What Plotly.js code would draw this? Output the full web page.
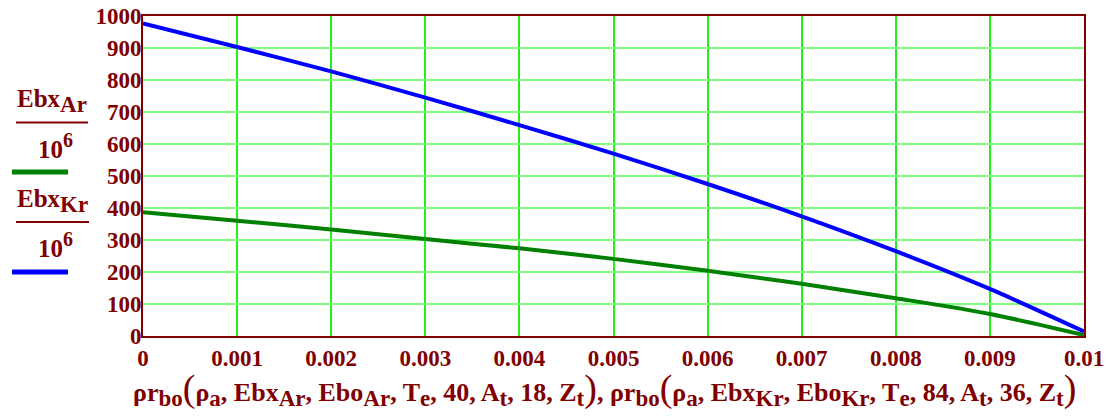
<!DOCTYPE html>
<html>
<head>
<meta charset="utf-8">
<script src="https://cdn.plot.ly/plotly-3.0.1.min.js"></script>
<style>
  html, body { margin: 0; padding: 0; background: #ffffff; }
  #plot { width: 1119px; height: 419px; }
</style>
</head>
<body>
<div id="plot"></div>
<script>
// Bulk density argument (x) shared by both curves
const rho = [0, 0.001, 0.002, 0.003, 0.004, 0.005, 0.006, 0.007, 0.008, 0.009, 0.01];
// Ebx / 10^6 for argon and krypton
const ebxAr = [387, 360, 333, 303, 274, 241, 204, 163, 118, 69, 3];
const ebxKr = [977, 903, 827, 745, 659, 570, 475, 374, 265, 147, 14];

const xTickVals = [0, 0.001, 0.002, 0.003, 0.004, 0.005, 0.006, 0.007, 0.008, 0.009, 0.01];
const xTickText = ['0', '0.001', '0.002', '0.003', '0.004', '0.005', '0.006', '0.007', '0.008', '0.009', '0.01'];
const yTickVals = [0, 100, 200, 300, 400, 500, 600, 700, 800, 900, 1000];
const yTickText = yTickVals.map(String);

const RED = '#800000';
const FONT = 'Liberation Serif';

// plot frame in pixels
const W = 1119, H = 419;
const L = 143, R = 35, T = 16, B = 83;
const pw = W - L - R, ph = H - T - B;
const px = x => (x - L) / pw;
const py = y => (H - B - y) / ph;

const traces = [
  { x: rho, y: ebxAr, mode: 'lines', line: { color: '#008000', width: 4, shape: 'spline', smoothing: 0.8 }, hoverinfo: 'skip' },
  { x: rho, y: ebxKr, mode: 'lines', line: { color: '#0000ff', width: 4, shape: 'spline', smoothing: 0.8 }, hoverinfo: 'skip' }
];

// near full-size subscripts, tall parentheses
const sb = (s, n) => '<sub><span style="font-size:' + n + 'px">' + s + '</span></sub>';
const sp = (s, n) => '<sup><span style="font-size:' + n + 'px">' + s + '</span></sup>';
const big = s => '<span style="font-size:38px; font-weight:normal">' + s + '</span>';
const t = s => sb(s, 23);
const xTitle =
  'ρr' + t('bo') + big('(') + 'ρ' + t('a') + ', Ebx' + t('Ar') + ', Ebo' + t('Ar') + ', T' + t('e') +
  ', 40, A' + t('t') + ', 18, Z' + t('t') + big(')') +
  ', ρr' + t('bo') + big('(') + 'ρ' + t('a') + ', Ebx' + t('Kr') + ', Ebo' + t('Kr') + ', T' + t('e') +
  ', 84, A' + t('t') + ', 36, Z' + t('t') + big(')');

const font = { family: FONT, size: 23, color: RED, weight: 'bold' };
const titleFont = { family: FONT, size: 26, color: RED, weight: 'bold' };
const legFont = { family: FONT, size: 25, color: RED, weight: 'bold' };

const annotations = [
  { text: xTitle, x: px(604), y: py(389), xref: 'paper', yref: 'paper', xanchor: 'center', yanchor: 'middle', showarrow: false, font: titleFont },
  { text: 'Ebx' + sb('Ar', 23), x: px(52), y: py(101), xref: 'paper', yref: 'paper', xanchor: 'center', yanchor: 'middle', showarrow: false, font: legFont },
  { text: '10' + sp('6', 20), x: px(55), y: py(146), xref: 'paper', yref: 'paper', xanchor: 'center', yanchor: 'middle', showarrow: false, font: legFont },
  { text: 'Ebx' + sb('Kr', 23), x: px(52), y: py(201), xref: 'paper', yref: 'paper', xanchor: 'center', yanchor: 'middle', showarrow: false, font: legFont },
  { text: '10' + sp('6', 20), x: px(55), y: py(245), xref: 'paper', yref: 'paper', xanchor: 'center', yanchor: 'middle', showarrow: false, font: legFont }
];

const hline = (x0, x1, y, color, width) => ({
  type: 'line', xref: 'paper', yref: 'paper',
  x0: px(x0), x1: px(x1), y0: py(y), y1: py(y),
  line: { color: color, width: width }
});

const shapes = [
  hline(16, 88, 122.5, RED, 2),
  hline(12, 68, 172, '#008000', 5),
  hline(16, 89, 222, RED, 2),
  hline(12, 68, 272, '#0000ff', 5)
];

const layout = {
  width: W, height: H,
  margin: { l: L, r: R, t: T, b: B, pad: 0 },
  paper_bgcolor: '#ffffff',
  plot_bgcolor: '#ffffff',
  showlegend: false,
  font: font,
  xaxis: {
    range: [0, 0.01],
    tickmode: 'array', tickvals: xTickVals, ticktext: xTickText,
    showgrid: true, gridcolor: '#22ee22', gridwidth: 2,
    showline: true, linecolor: RED, linewidth: 2, mirror: true,
    zeroline: false, ticks: '', automargin: false,
    tickfont: font
  },
  yaxis: {
    range: [0, 1000],
    tickmode: 'array', tickvals: yTickVals, ticktext: yTickText,
    showgrid: true, gridcolor: '#80ff80', gridwidth: 2,
    showline: true, linecolor: RED, linewidth: 2, mirror: true,
    zeroline: false, ticks: '', automargin: false,
    ticklabelstandoff: -5,
    tickfont: font
  },
  annotations: annotations,
  shapes: shapes
};

Plotly.newPlot('plot', traces, layout, { staticPlot: true, displayModeBar: false });
</script>
</body>
</html>
